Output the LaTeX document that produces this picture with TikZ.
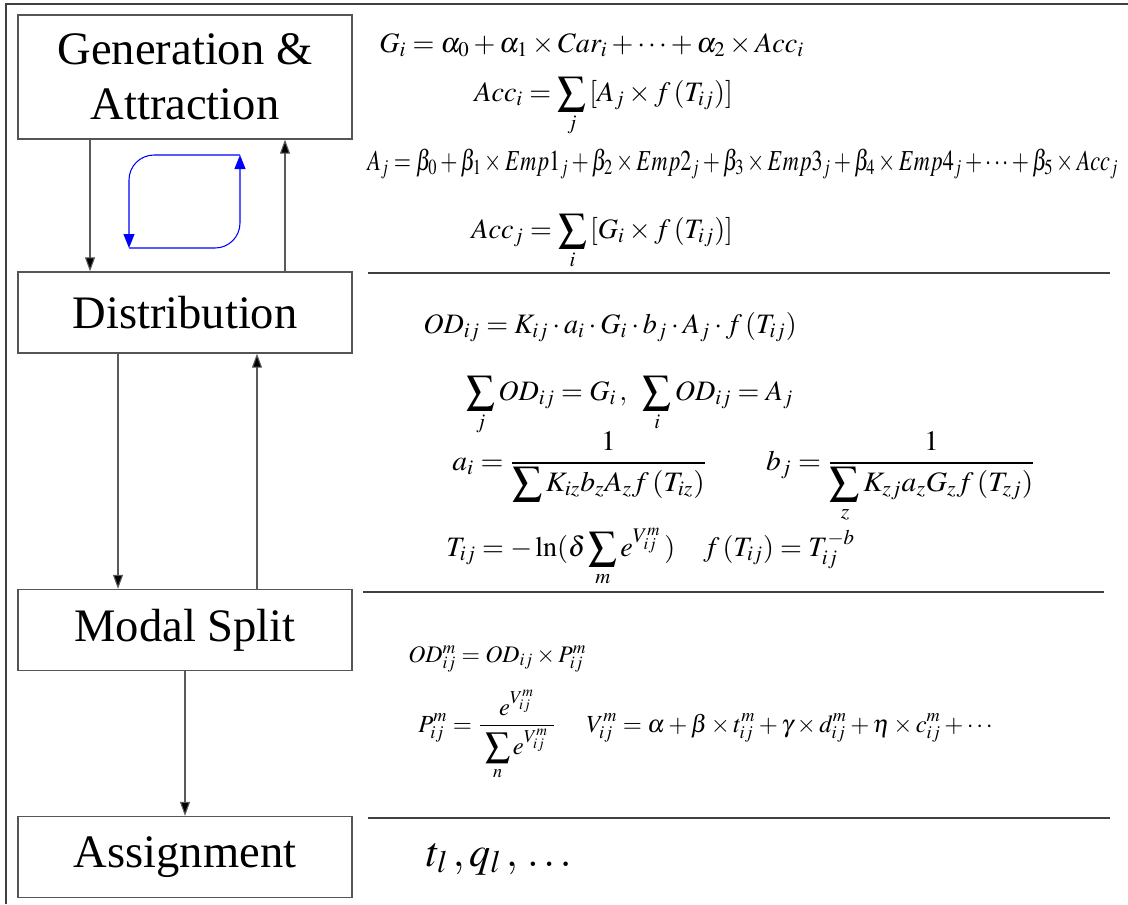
\documentclass[tikz,border=0pt]{standalone}
\usepackage{mathptmx}
\usepackage{graphicx}
\usepackage{fontspec}
\setmainfont{Liberation Serif}
\usetikzlibrary{arrows.meta,positioning,calc}
\definecolor{framegray}{HTML}{404040}
\definecolor{boxgray}{HTML}{555555}
\definecolor{flowgray}{HTML}{5A5A5A}
\definecolor{loopblue}{HTML}{0000FF}

\begin{document}
\begin{tikzpicture}[
    x=0.02cm, y=-0.02cm,
    stagebox/.style={draw=boxgray, line width=0.8pt, minimum width=6.68cm,
        minimum height=1.62cm, align=center, inner sep=2pt,
        font=\fontsize{26.5}{31.5}\selectfont},
    formula/.style={anchor=base west, inner sep=0pt,
        font=\fontsize{16}{19}\selectfont},
    smallformula/.style={formula, font=\fontsize{13.5}{16}\selectfont},
    flow/.style={draw=flowgray, line width=0.6pt,
        -{Triangle[length=0.28cm, width=0.2cm, fill=black]}},
    loopline/.style={draw=loopblue, line width=0.6pt, rounded corners=0.5cm,
        -{Triangle[length=0.28cm, width=0.22cm]}},
    sepline/.style={draw=framegray, line width=0.8pt},
]
\useasboundingbox (0,0) rectangle (1128,904);

% =====================================================
% Outer frame (only top and left edges show)
% =====================================================
\draw[framegray, line width=1pt] (6,904) -- (6,4) -- (1128,4);

% =====================================================
% Model stages (left column)
% =====================================================
\node[stagebox, minimum height=2.48cm] (gen) at (185,77)
    {Generation \&\\Attraction};
\node[stagebox] (dist) at (185,312.5) {Distribution};
\node[stagebox] (modal) at (185,630) {Modal Split};
\node[stagebox] (assign) at (185,857) {Assignment};

% --- arrows between stages ---
\draw[flow] ([xshift=-1.9cm]gen.south) -- ([xshift=-1.9cm]dist.north);
\draw[flow] ([xshift=2cm]dist.north) -- ([xshift=2cm]gen.south);
\draw[flow] ([xshift=-1.34cm]dist.south) -- ([xshift=-1.34cm]modal.north);
\draw[flow] ([xshift=1.44cm]modal.north) -- ([xshift=1.44cm]dist.south);
\draw[flow] (modal.south) -- (assign.north);

% --- feedback loop between G and A ---
\coordinate (loopbl) at (129,248);
\coordinate (looptr) at (240,155);
\draw[loopline] (loopbl) -| (looptr);
\draw[loopline] (looptr) -| (loopbl);

% =====================================================
% Equations (right column)
% =====================================================
\node[formula] (eqgen) at (379,52)
    {$G_i=\alpha_0+\alpha_1\times Car_i+\cdots+\alpha_2\times Acc_i$};
\node[formula] (eqacci) at (474,101)
    {$\displaystyle Acc_i=\sum_j\,[A_j\times f\,(T_{ij})]$};
\node[formula] (eqattr) at (367,170)
    {\scalebox{0.79}[1.03]{$A_j=\beta_0+\beta_1\times Emp\mathrm{1}_j+\beta_2\times Emp\mathrm{2}_j
      +\beta_3\times Emp\mathrm{3}_j+\beta_4\times Emp\mathrm{4}_j+\cdots
      +\beta_5\times Acc_j$}};
\node[formula] (eqaccj) at (471,238)
    {$\displaystyle Acc_j=\sum_i\,[G_i\times f\,(T_{ij})]$};
\draw[sepline] (368,273) -- (1110,273);

\node[formula] (eqod) at (423,333)
    {$OD_{ij}=K_{ij}\cdot a_i\cdot G_i\cdot b_j\cdot A_j\cdot f\,(T_{ij})$};
\node[formula] (eqsum) at (466,400)
    {$\displaystyle \sum_j OD_{ij}=G_i\,,\;\;\sum_i OD_{ij}=A_j$};
\node[formula] (eqbal) at (452,470)
    {\scalebox{1.05}[1]{$\displaystyle a_i=\frac{1}{\displaystyle\sum K_{iz}b_zA_zf\,(T_{iz})}\qquad
      b_j=\frac{1}{\displaystyle\sum_z K_{zj}a_zG_zf\,(T_{zj})}$}};
\node[formula] (eqcost) at (446,556)
    {$\displaystyle T_{ij}=-\ln(\delta\sum_m e^{V_{ij}^m}\,)\quad
      f\,(T_{ij})=T_{ij}^{-b}$};
\draw[sepline] (363,592) -- (1104,592);

\node[smallformula] (eqodm) at (408,662)
    {$OD_{ij}^m=OD_{ij}\times P_{ij}^m$};
\node[smallformula, font=\fontsize{14}{17}\selectfont] (eqlogit) at (418,732)
    {$\displaystyle P_{ij}^m=\frac{\;e^{V_{ij}^m}\;}{\displaystyle\;\sum_n e^{V_{ij}^m}\;}\quad\;
      V_{ij}^m=\alpha+\beta\times t_{ij}^m+\gamma\times d_{ij}^m
      +\eta\times c_{ij}^m+\cdots$};
\draw[sepline] (368,818) -- (1110,818);

\node[formula, font=\fontsize{24}{28}\selectfont] (eqlink) at (426,866)
    {$t_l\,,q_l\,,\,\ldots$};

\end{tikzpicture}
\end{document}
